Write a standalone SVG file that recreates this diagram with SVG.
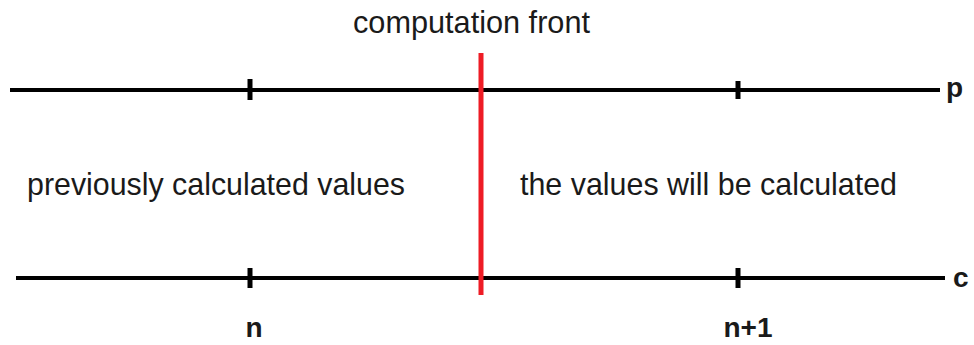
<svg xmlns="http://www.w3.org/2000/svg" width="974" height="345" viewBox="0 0 974 345">
<style>
.ln{stroke:#000;stroke-width:4;fill:none}
.tk{stroke:#000;stroke-width:5;fill:none}
.t{font-family:"Liberation Sans",Arial,sans-serif;font-size:30.5px;fill:#1a1a1a}
.b{font-family:"Liberation Sans",Arial,sans-serif;font-size:28px;font-weight:bold;fill:#1a1a1a}
</style>
<rect width="974" height="345" fill="#fff"/>
<g id="line-p">
<line class="ln" x1="10" y1="90" x2="940" y2="90"/>
<line class="tk" x1="250" y1="79" x2="250" y2="100"/>
<line class="tk" x1="738" y1="81" x2="738" y2="99"/>
<text class="b" x="946" y="97">p</text>
</g>
<g id="line-c">
<line class="ln" x1="16" y1="278" x2="945" y2="278"/>
<line class="tk" x1="250" y1="268" x2="250" y2="288"/>
<line class="tk" x1="738" y1="268" x2="738" y2="288"/>
<text class="b" x="953" y="287">c</text>
</g>
<g id="front">
<line x1="481" y1="53" x2="481" y2="295" stroke="#ee1c25" stroke-width="5"/>
<text class="t" x="353" y="33" textLength="237" lengthAdjust="spacingAndGlyphs">computation front</text>
</g>
<g id="labels">
<text class="t" x="27" y="195" textLength="378" lengthAdjust="spacingAndGlyphs">previously calculated values</text>
<text class="t" x="520" y="195" textLength="377" lengthAdjust="spacingAndGlyphs">the values will be calculated</text>
<text class="b" x="254" y="337" text-anchor="middle">n</text>
<text class="b" x="748" y="337" text-anchor="middle">n+1</text>
</g>
</svg>
